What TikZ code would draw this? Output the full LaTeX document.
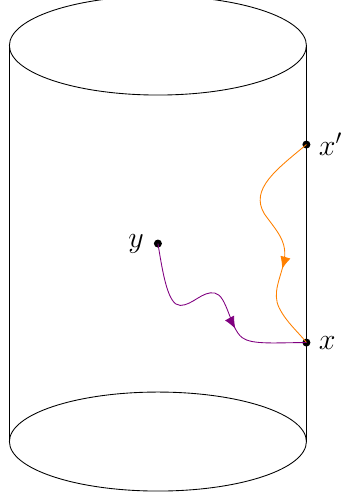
\documentclass[tikz,border=0pt]{standalone}
\usetikzlibrary{decorations.markings,arrows.meta}
\tikzset{
  dot/.style={circle,fill=black,inner sep=0pt,minimum size=4.6pt},
  lbl/.style={font=\LARGE},
  midarrow/.style={postaction={decorate},decoration={markings,mark=at position #1 with {\arrow{Latex[length=7pt,width=6pt]}}}},
}
\begin{document}
\begin{tikzpicture}[line width=0.5pt]
\useasboundingbox (-3.19,-1.12) rectangle (3.74,8.92);
% cylinder
\draw (0,8) ellipse [x radius=3, y radius=1];
\draw (0,0) ellipse [x radius=3, y radius=1];
\draw (-3,0) -- (-3,8);
\draw (3,0) -- (3,8);
% points
\node[dot] (xp) at (3,6) {};
\node[dot] (x) at (3,2) {};
\node[dot] (y) at (0,4) {};
\node[lbl,anchor=west] (xpl) at ([xshift=1pt]xp.east) {$x'$};
\node[lbl,anchor=west] (xl) at ([xshift=1pt]x.east) {$x$};
\node[lbl,anchor=east] (yl) at ([xshift=-2pt]y.west) {$y$};
% paths
\draw[orange,midarrow=0.64] (xp.center) .. controls (2.4,5.5) and (1.85,5.1) .. (2.15,4.6)
  .. controls (2.4,4.25) and (2.62,4.05) .. (2.55,3.65)
  .. controls (2.48,3.3) and (2.3,3.0) .. (2.45,2.7)
  .. controls (2.6,2.4) and (2.85,2.2) .. (x.center);
\draw[violet,midarrow=0.66] (y.center) .. controls (0.1,3.4) and (0.2,2.75) .. (0.45,2.75)
  .. controls (0.7,2.75) and (0.9,3.05) .. (1.15,3.0)
  .. controls (1.4,2.95) and (1.45,2.3) .. (1.7,2.1)
  .. controls (1.9,1.95) and (2.4,2.0) .. (x.center);
\end{tikzpicture}
\end{document}
